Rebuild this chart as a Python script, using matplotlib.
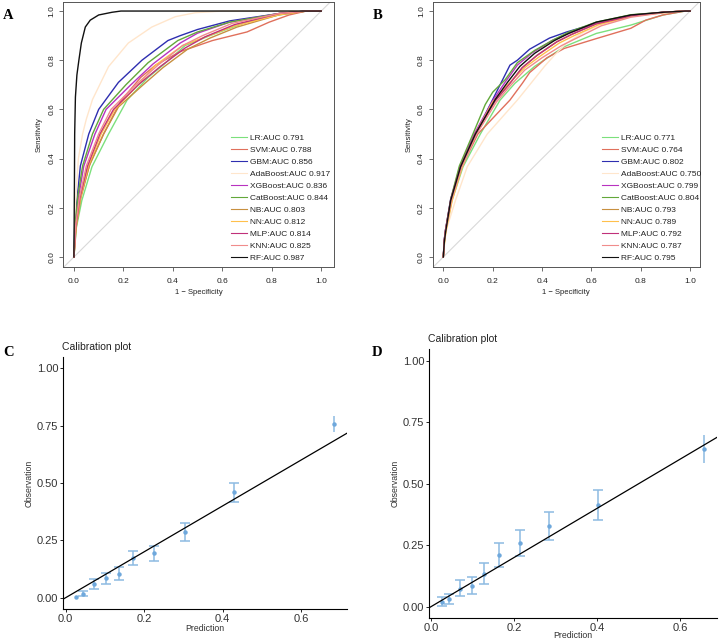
import numpy as np
import matplotlib
matplotlib.use("Agg")
import matplotlib.pyplot as plt

plt.rcParams['font.family'] = ['Liberation Sans', 'DejaVu Sans']

# ---- ROC curves, training set (A): (1-specificity, sensitivity)
A_LR = [(0, 0), (0.01, 0.12), (0.032, 0.23), (0.073, 0.367), (0.14, 0.50), (0.215, 0.638), (0.30, 0.73),
        (0.36, 0.78), (0.45, 0.86), (0.55, 0.90), (0.63, 0.93), (0.70, 0.955), (0.83, 0.984), (0.94, 1), (1, 1)]
A_SVM = [(0, 0), (0.008, 0.13), (0.028, 0.25), (0.065, 0.38), (0.12, 0.50), (0.19, 0.635), (0.27, 0.73),
         (0.33, 0.78), (0.43, 0.835), (0.56, 0.88), (0.70, 0.915), (0.79, 0.955), (0.87, 0.984), (0.94, 1), (1, 1)]
A_GBM = [(0, 0), (0.003, 0.12), (0.012, 0.23), (0.026, 0.37), (0.06, 0.50), (0.10, 0.60), (0.18, 0.71),
         (0.275, 0.80), (0.38, 0.88), (0.43, 0.90), (0.50, 0.925), (0.63, 0.96), (0.83, 0.99), (0.94, 1), (1, 1)]
A_ADA = [(0, 0), (0.005, 0.2), (0.018, 0.40), (0.035, 0.50), (0.05, 0.56), (0.075, 0.64), (0.14, 0.774),
         (0.22, 0.87), (0.315, 0.935), (0.41, 0.977), (0.49, 0.993), (0.60, 1), (1, 1)]
A_XGB = [(0, 0), (0.005, 0.12), (0.018, 0.24), (0.04, 0.37), (0.085, 0.50), (0.13, 0.60), (0.23, 0.70),
         (0.32, 0.785), (0.43, 0.87), (0.50, 0.91), (0.63, 0.955), (0.83, 0.99), (0.94, 1), (1, 1)]
A_CAT = [(0, 0), (0.004, 0.12), (0.016, 0.25), (0.035, 0.37), (0.075, 0.50), (0.12, 0.60), (0.21, 0.70),
         (0.30, 0.79), (0.42, 0.88), (0.50, 0.915), (0.63, 0.955), (0.83, 0.99), (0.94, 1), (1, 1)]
A_NB = [(0, 0), (0.009, 0.12), (0.028, 0.24), (0.062, 0.37), (0.12, 0.50), (0.18, 0.61), (0.28, 0.70),
        (0.36, 0.77), (0.46, 0.845), (0.55, 0.89), (0.66, 0.935), (0.83, 0.985), (0.94, 1), (1, 1)]
A_NN = [(0, 0), (0.008, 0.12), (0.026, 0.24), (0.058, 0.37), (0.11, 0.50), (0.165, 0.60), (0.26, 0.70),
        (0.33, 0.78), (0.44, 0.86), (0.52, 0.89), (0.65, 0.94), (0.83, 0.985), (0.94, 1), (1, 1)]
A_MLP = [(0, 0), (0.007, 0.12), (0.024, 0.24), (0.055, 0.37), (0.105, 0.50), (0.16, 0.60), (0.26, 0.70),
         (0.35, 0.775), (0.45, 0.85), (0.53, 0.895), (0.65, 0.945), (0.83, 0.99), (0.94, 1), (1, 1)]
A_KNN = [(0, 0), (0.006, 0.12), (0.022, 0.24), (0.05, 0.37), (0.10, 0.50), (0.15, 0.60), (0.25, 0.70),
         (0.34, 0.78), (0.44, 0.86), (0.52, 0.90), (0.64, 0.95), (0.83, 0.99), (0.94, 1), (1, 1)]
A_RF = [(0, 0), (0.002, 0.3), (0.003, 0.5), (0.006, 0.65), (0.012, 0.74), (0.02, 0.80), (0.03, 0.87),
        (0.046, 0.935), (0.066, 0.963), (0.10, 0.984), (0.154, 0.995), (0.19, 1), (1, 1)]

# ---- ROC curves, validation set (B)
B_LR = [(0, 0), (0.005, 0.07), (0.01, 0.11), (0.035, 0.23), (0.08, 0.367), (0.15, 0.50), (0.23, 0.638),
        (0.29, 0.706), (0.37, 0.775), (0.49, 0.855), (0.62, 0.909), (0.76, 0.943), (0.89, 0.984), (0.98, 1), (1, 1)]
B_SVM = [(0, 0), (0.005, 0.07), (0.01, 0.11), (0.033, 0.23), (0.075, 0.367), (0.14, 0.50), (0.27, 0.638),
         (0.32, 0.706), (0.35, 0.75), (0.42, 0.81), (0.49, 0.848), (0.62, 0.888), (0.76, 0.93), (0.82, 0.963),
         (0.89, 0.984), (0.98, 1), (1, 1)]
B_GBM = [(0, 0), (0.004, 0.07), (0.009, 0.11), (0.03, 0.235), (0.07, 0.37), (0.13, 0.50), (0.20, 0.64),
         (0.24, 0.72), (0.27, 0.78), (0.30, 0.80), (0.35, 0.845), (0.43, 0.89), (0.50, 0.915), (0.62, 0.95),
         (0.76, 0.98), (0.89, 0.995), (0.98, 1), (1, 1)]
B_ADA = [(0, 0), (0.006, 0.07), (0.015, 0.12), (0.05, 0.232), (0.097, 0.367), (0.178, 0.50), (0.30, 0.638),
         (0.35, 0.70), (0.41, 0.775), (0.45, 0.82), (0.50, 0.87), (0.57, 0.915), (0.65, 0.95), (0.77, 0.98),
         (0.89, 0.995), (0.98, 1), (1, 1)]
B_XGB = [(0, 0), (0.004, 0.07), (0.009, 0.11), (0.03, 0.235), (0.068, 0.37), (0.125, 0.50), (0.20, 0.635),
         (0.25, 0.71), (0.30, 0.78), (0.36, 0.83), (0.44, 0.88), (0.51, 0.91), (0.62, 0.952), (0.76, 0.983),
         (0.89, 0.995), (0.98, 1), (1, 1)]
B_CAT = [(0, 0), (0.004, 0.07), (0.009, 0.11), (0.03, 0.235), (0.065, 0.37), (0.12, 0.50), (0.17, 0.62),
         (0.20, 0.67), (0.25, 0.72), (0.30, 0.79), (0.37, 0.84), (0.45, 0.885), (0.51, 0.915), (0.62, 0.955),
         (0.76, 0.985), (0.89, 0.995), (0.98, 1), (1, 1)]
B_NB = [(0, 0), (0.005, 0.07), (0.01, 0.11), (0.032, 0.23), (0.072, 0.367), (0.13, 0.50), (0.21, 0.635),
        (0.265, 0.70), (0.32, 0.77), (0.38, 0.82), (0.46, 0.875), (0.52, 0.905), (0.62, 0.948), (0.76, 0.98),
        (0.89, 0.995), (0.97, 1), (1, 1)]
B_NN = [(0, 0), (0.006, 0.07), (0.012, 0.11), (0.036, 0.23), (0.075, 0.36), (0.13, 0.50), (0.20, 0.63),
        (0.26, 0.70), (0.33, 0.77), (0.39, 0.815), (0.47, 0.87), (0.53, 0.90), (0.63, 0.945), (0.76, 0.978),
        (0.89, 0.993), (0.97, 1), (1, 1)]
B_MLP = [(0, 0), (0.004, 0.07), (0.009, 0.11), (0.031, 0.235), (0.07, 0.367), (0.13, 0.50), (0.21, 0.635),
         (0.265, 0.70), (0.32, 0.77), (0.38, 0.82), (0.46, 0.875), (0.52, 0.905), (0.62, 0.948), (0.76, 0.98),
         (0.89, 0.995), (0.98, 1), (1, 1)]
B_KNN = [(0, 0), (0.005, 0.07), (0.01, 0.11), (0.033, 0.23), (0.073, 0.36), (0.135, 0.50), (0.215, 0.63),
         (0.27, 0.695), (0.33, 0.76), (0.40, 0.81), (0.48, 0.86), (0.55, 0.895), (0.64, 0.94), (0.76, 0.975),
         (0.89, 0.993), (0.97, 1), (1, 1)]
B_RF = [(0, 0), (0.004, 0.06), (0.009, 0.10), (0.03, 0.23), (0.07, 0.367), (0.13, 0.50), (0.21, 0.64),
        (0.26, 0.71), (0.31, 0.775), (0.37, 0.828), (0.45, 0.88), (0.51, 0.91), (0.62, 0.955), (0.76, 0.984),
        (0.89, 0.995), (0.98, 1), (1, 1)]

models = ['LR', 'SVM', 'GBM', 'AdaBoost', 'XGBoost', 'CatBoost', 'NB', 'NN', 'MLP', 'KNN', 'RF']
auc_a = [0.791, 0.788, 0.856, 0.917, 0.836, 0.844, 0.803, 0.812, 0.814, 0.825, 0.987]
auc_b = [0.771, 0.764, 0.802, 0.750, 0.799, 0.804, 0.793, 0.789, 0.792, 0.787, 0.795]
colors = ['#7CE07C', '#E0705C', '#2E2EB0', '#FFE6CC', '#B832C0', '#62A83A',
          '#C89040', '#FFC04C', '#C0307A', '#F08C8C', '#111111']
roc_a = [A_LR, A_SVM, A_GBM, A_ADA, A_XGB, A_CAT, A_NB, A_NN, A_MLP, A_KNN, A_RF]
roc_b = [B_LR, B_SVM, B_GBM, B_ADA, B_XGB, B_CAT, B_NB, B_NN, B_MLP, B_KNN, B_RF]

# ---- calibration (C: training, D: validation)
c_pred = [0.026, 0.044, 0.072, 0.104, 0.135, 0.172, 0.226, 0.303, 0.428, 0.683]
c_obs = [0.003, 0.016, 0.058, 0.084, 0.103, 0.174, 0.193, 0.286, 0.461, 0.756]
c_lo = [np.nan, 0.007, 0.039, 0.060, 0.077, 0.141, 0.160, 0.249, 0.419, 0.721]
c_hi = [np.nan, 0.030, 0.080, 0.109, 0.132, 0.202, 0.225, 0.324, 0.499, 0.792]

d_pred = [0.027, 0.044, 0.070, 0.100, 0.129, 0.164, 0.214, 0.284, 0.403, 0.658]
d_obs = [0.020, 0.032, 0.074, 0.086, 0.132, 0.209, 0.259, 0.330, 0.412, 0.643]
d_lo = [0.004, 0.011, 0.042, 0.050, 0.092, 0.161, 0.205, 0.272, 0.351, 0.584]
d_hi = [0.040, 0.051, 0.107, 0.120, 0.176, 0.261, 0.312, 0.386, 0.476, 0.699]

W, H = 719, 640
fig = plt.figure(figsize=(W / 100, H / 100), dpi=100)


def box(l, t, r, b):
    return [l / W, 1 - b / H, (r - l) / W, (b - t) / H]


def roc_panel(rect, curves, aucs, xlim, legx):
    ax = fig.add_axes(rect)
    ax.plot([-0.1, 1.1], [-0.1, 1.1], color='#D9D9D9', lw=0.8, zorder=1)
    for name, pts, col in zip(models, curves, colors):
        xy = np.array(pts)
        ax.plot(xy[:, 0], xy[:, 1], color=col, lw=1.0, zorder=2)
    handles = [plt.Line2D([], [], color=c, lw=0.8) for c in colors]
    labels = ['%s:AUC %.3f' % (m, a) for m, a in zip(models, aucs)]
    ax.legend(handles, labels, loc='lower left', bbox_to_anchor=(legx, -0.022),
              bbox_transform=ax.transData, frameon=False, fontsize=6,
              handlelength=1.9, handletextpad=0.4, labelspacing=0.5, borderpad=0,
              borderaxespad=0, labelcolor='#222222')
    ax.set_xlim(*xlim)
    ax.set_ylim(-0.042, 1.038)
    ticks = [0, 0.2, 0.4, 0.6, 0.8, 1.0]
    ax.set_xticks(ticks)
    ax.set_yticks(ticks)
    ax.set_xticklabels(['%.1f' % t for t in ticks])
    ax.set_yticklabels(['%.1f' % t for t in ticks], rotation=90, va='center')
    ax.tick_params(axis='both', labelsize=6, colors='#555555', labelcolor='#222222',
                   length=3, width=0.6)
    ax.tick_params(axis='x', pad=4.5)
    ax.tick_params(axis='y', pad=2.5)
    for s in ax.spines.values():
        s.set_color('#555555')
        s.set_linewidth(0.7)
    ax.set_xlabel('1 \u2212 Specificity', fontsize=5.5, color='#222222', labelpad=3)
    ax.set_ylabel('Sensitivity', fontsize=5.5, color='#222222', labelpad=4)
    return ax


def calib_panel(rect, pred, obs, lo, hi, xlim, ylim, xlabpad):
    ax = fig.add_axes(rect)
    pred = np.array(pred)
    obs = np.array(obs)
    err = np.array([obs - np.array(lo), np.array(hi) - obs])
    ax.axline((0, 0), slope=1, color='black', lw=0.9, zorder=3)
    ax.errorbar(pred[:-1], obs[:-1], yerr=err[:, :-1], fmt='o', ms=2.2, color='#6FA8DC',
                ecolor='#8DBBE2', elinewidth=1.1, capsize=3.6, capthick=1.1, zorder=2)
    ax.errorbar(pred[-1:], obs[-1:], yerr=err[:, -1:], fmt='o', ms=2.2, color='#6FA8DC',
                ecolor='#8DBBE2', elinewidth=1.1, capsize=0, zorder=2)
    ax.set_xlim(*xlim)
    ax.set_ylim(*ylim)
    ax.set_xticks([0, 0.2, 0.4, 0.6])
    ax.set_xticklabels(['0.0', '0.2', '0.4', '0.6'])
    ax.set_yticks([0, 0.25, 0.5, 0.75, 1.0])
    ax.set_yticklabels(['0.00', '0.25', '0.50', '0.75', '1.00'])
    ax.spines['top'].set_visible(False)
    ax.spines['right'].set_visible(False)
    for s in ['left', 'bottom']:
        ax.spines[s].set_linewidth(0.8)
    ax.tick_params(labelsize=8, labelcolor='#333333', length=2.5, width=0.6, pad=1.2)
    ax.set_xlabel('Prediction', fontsize=6.3, color='#333333', labelpad=xlabpad)
    ax.set_ylabel('Observation', fontsize=6.3, color='#333333', labelpad=2)
    ax.set_title('Calibration plot', fontsize=7.5, loc='left', x=-0.005, pad=5, color='#222222')
    return ax


roc_panel(box(63.3, 1.7, 334.3, 267.3), roc_a, auc_a, (-0.043, 1.053), 0.636)
roc_panel(box(432.7, 1.7, 700, 267.3), roc_b, auc_b, (-0.043, 1.040), 0.642)
calib_panel(box(63.3, 356.8, 347, 609.3), c_pred, c_obs, c_lo, c_hi, (-0.006, 0.717), (-0.0506, 1.05), 0)
calib_panel(box(429.3, 348.7, 717.3, 617.7), d_pred, d_obs, d_lo, d_hi, (-0.004, 0.69), (-0.0448, 1.05), -1.5)

for lab, x, y in [('A', 3, 15.5), ('B', 373, 15.5), ('C', 3, 352), ('D', 372, 352)]:
    fig.text(x / W, 1 - y / H, lab, fontsize=10.5, fontweight='bold', family='Liberation Serif',
             ha='left', va='center')

fig.savefig('out.png', dpi=100)
